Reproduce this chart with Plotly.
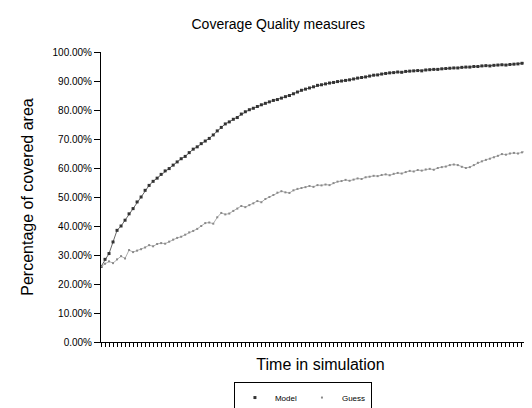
import plotly.graph_objects as go

steps = list(range(110))

model = [26.0, 28.5, 30.5, 34.5, 38.5, 40.0, 42.0, 44.2, 46.0, 48.3,
         50.0, 52.3, 54.0, 55.4, 56.5, 57.8, 59.0, 59.8, 61.0, 62.1,
         63.2, 64.0, 65.3, 66.5, 67.3, 68.4, 69.3, 70.2, 71.4, 72.8,
         74.0, 75.2, 75.9, 76.8, 77.4, 78.6, 79.4, 80.1, 80.6, 81.2,
         81.8, 82.3, 82.8, 83.3, 83.6, 84.1, 84.6, 85.0, 85.6, 86.2,
         86.8, 87.2, 87.6, 88.0, 88.5, 88.7, 89.0, 89.3, 89.5, 89.8,
         90.0, 90.2, 90.4, 90.7, 91.0, 91.2, 91.4, 91.7, 92.0, 92.1,
         92.4, 92.6, 92.8, 92.9, 93.1, 93.0, 93.3, 93.4, 93.5, 93.6,
         93.5, 93.8, 93.9, 94.0, 94.0, 94.2, 94.3, 94.4, 94.5, 94.5,
         94.7, 94.8, 94.8, 95.0, 95.0, 95.2, 95.3, 95.2, 95.4, 95.5,
         95.6, 95.5, 95.7, 95.8, 95.9, 96.1, 96.3, 96.2, 96.4, 96.5]

guess = [26.0, 27.0, 27.8, 27.2, 28.5, 29.6, 28.8, 31.7, 31.0, 31.5,
         32.0, 32.6, 33.4, 33.0, 33.8, 34.1, 33.9, 34.6, 35.3, 35.9,
         36.3, 37.0, 37.8, 38.3, 39.0, 40.0, 41.0, 41.2, 40.8, 43.0,
         44.5, 44.0, 44.3, 45.2, 46.0, 46.9, 46.5, 47.2, 47.8, 48.6,
         48.2, 49.3, 50.0, 50.7, 51.5, 52.0, 51.6, 51.4, 52.3, 52.8,
         53.1, 53.4, 53.8, 53.5, 54.1, 54.0, 54.3, 54.1, 54.8, 55.3,
         55.5, 55.9, 55.6, 56.0, 56.4, 56.2, 56.8, 57.0, 57.3, 57.2,
         57.6, 57.8, 57.5, 58.0, 58.3, 58.1, 58.6, 59.0, 58.8, 59.3,
         59.1, 59.5, 59.7, 59.4, 60.0, 60.3, 60.5, 61.0, 61.2, 61.0,
         60.4, 60.0, 60.3, 61.0, 61.8, 62.3, 62.8, 63.2, 63.7, 64.2,
         64.8, 64.6, 65.0, 65.2, 65.0, 65.4, 65.8, 65.6, 65.9, 66.0]

y_ticks = [0, 10, 20, 30, 40, 50, 60, 70, 80, 90, 100]

FONT = "Liberation Sans, Arial, sans-serif"
MODEL_LINE, MODEL_MARK = "#666666", "#333333"
GUESS_LINE, GUESS_MARK = "#b0b0b0", "#8a8a8a"

fig = go.Figure()
fig.add_trace(go.Scatter(
    x=steps, y=model, name="Model", mode="lines+markers", showlegend=False,
    line=dict(color=MODEL_LINE, width=1),
    marker=dict(symbol="square", size=3, color=MODEL_MARK),
))
fig.add_trace(go.Scatter(
    x=steps, y=guess, name="Guess", mode="lines+markers", showlegend=False,
    line=dict(color=GUESS_LINE, width=1),
    marker=dict(symbol="square", size=2, color=GUESS_MARK),
))
# legend entries (marker-only keys like the reference)
fig.add_trace(go.Scatter(x=[None], y=[None], name="Model", mode="markers",
                         marker=dict(symbol="square", size=3, color=MODEL_MARK)))
fig.add_trace(go.Scatter(x=[None], y=[None], name="Guess", mode="markers",
                         marker=dict(symbol="square", size=2, color=GUESS_MARK)))

fig.update_layout(
    width=532, height=408,
    margin=dict(l=93, r=0, t=44, b=74, autoexpand=False),
    paper_bgcolor="white", plot_bgcolor="white",
    font=dict(family=FONT, color="black"),
    title=dict(text="Coverage Quality measures", x=0.508, xanchor="center",
               y=0.96, yanchor="middle", font=dict(size=14, family=FONT)),
    showlegend=True,
    legend=dict(orientation="h", x=0.46, xanchor="center", y=-0.245, yanchor="bottom",
                bordercolor="black", borderwidth=1,
                font=dict(size=8, color="black"),
                itemwidth=30, tracegroupgap=0, itemsizing="trace"),
)
fig.update_xaxes(
    range=[0, 109.5], showgrid=False, zeroline=False,
    showline=True, linecolor="black", linewidth=1,
    ticks="outside", tickmode="linear", tick0=0, dtick=1, ticklen=4,
    tickcolor="black", tickwidth=1, showticklabels=False,
    title=dict(text="Time in simulation", font=dict(size=16), standoff=12),
)
fig.update_yaxes(
    range=[0, 100], showgrid=False, zeroline=False,
    showline=True, linecolor="black", linewidth=1,
    ticks="outside", tickvals=y_ticks, ticktext=[f"{v:.2f}%" for v in y_ticks],
    ticklen=6, tickcolor="black", tickfont=dict(size=10),
    title=dict(text="Percentage of covered area", font=dict(size=16), standoff=14),
)

fig.write_html("out.html")
